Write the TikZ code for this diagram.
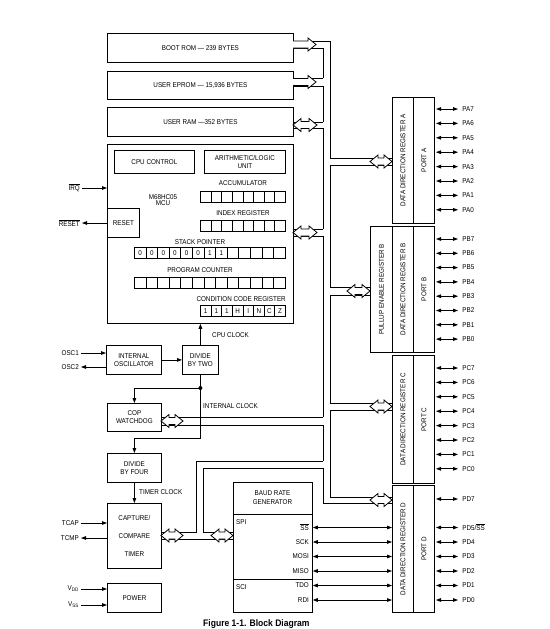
\documentclass[tikz,border=0pt]{standalone}
\usepackage{fontspec}
\setmainfont{Liberation Sans}[FakeStretch=0.9]
\usetikzlibrary{positioning, arrows.meta, calc}

\newcommand{\lbl}{\fontsize{7}{8}\selectfont}
\newcommand{\ovl}[1]{\ensuremath{\overline{\mbox{#1}}}}

\tikzset{
  blk/.style={draw, line width=0.8pt, inner sep=0pt, align=center, font=\lbl},
  cell/.style={draw, line width=0.7pt, inner sep=0pt, minimum height=11pt, anchor=north west, font=\lbl},
  txt/.style={inner sep=0pt, font=\lbl, align=center},
  bus/.style={line width=0.8pt},
  hollow/.style={draw, fill=white, line width=0.8pt, line join=miter},
  sig/.style={-{Triangle[length=5pt, width=3.6pt]}, line width=0.8pt},
  bisig/.style={{Triangle[length=5pt, width=3.6pt]}-{Triangle[length=5pt, width=3.6pt]}, line width=0.8pt},
}

% hollow bus arrow, one head: start x, centre y, tip x
\newcommand{\busR}[3]{%
  \draw[hollow] (#1,#2-3.5) -- (#3-8,#2-3.5) -- (#3-8,#2-6.5) -- (#3,#2) -- (#3-8,#2+6.5) -- (#3-8,#2+3.5) -- (#1,#2+3.5);%
}
% hollow bus arrow, two heads: left tip x, centre y, right tip x
\newcommand{\busLR}[3]{%
  \draw[hollow] (#1,#2) -- (#1+8,#2-6.5) -- (#1+8,#2-3.5) -- (#3-8,#2-3.5) -- (#3-8,#2-6.5) -- (#3,#2) -- (#3-8,#2+6.5) -- (#3-8,#2+3.5) -- (#1+8,#2+3.5) -- (#1+8,#2+6.5) -- cycle;%
}

\begin{document}
\begin{tikzpicture}[x=1pt, y=-1pt]
\useasboundingbox (0,0) rectangle (549,629);

% Memory
\node[blk, minimum width=186pt, minimum height=29pt, anchor=north west] (rom) at (107,33) {BOOT ROM --- 239 BYTES};
\node[blk, minimum width=186pt, minimum height=28pt, anchor=north west] (eprom) at (107,71) {USER EPROM --- 15,936 BYTES};
\node[blk, minimum width=186pt, minimum height=29pt, anchor=north west] (ram) at (107,107) {USER RAM ---352 BYTES};

% CPU
\node[blk, minimum width=186pt, minimum height=179pt, anchor=north west] (cpu) at (107,144) {};
\node[blk, minimum width=80pt, minimum height=23pt, anchor=north west] (ctrl) at (114,150) {CPU CONTROL};
\node[blk, minimum width=81pt, minimum height=23pt, anchor=north west] (alu) at (204,150) {ARITHMETIC/LOGIC\\UNIT};
\node[txt, font=\fontsize{7}{6.5}\selectfont] (mcu) at (163,200) {M68HC05\\MCU};
\node[blk, minimum width=32pt, minimum height=29pt, anchor=north west] (reset) at (107,208) {RESET};

\node[txt] (acclbl) at (243,183) {ACCUMULATOR};
\foreach \i in {0,...,7}
  \node[cell, minimum width=10.625pt] (acc\i) at (200+\i*10.625,191) {};
\node[txt] (ixlbl) at (243,213) {INDEX REGISTER};
\foreach \i in {0,...,7}
  \node[cell, minimum width=10.625pt] (ix\i) at (200+\i*10.625,220) {};
\node[txt] (splbl) at (200,242) {STACK POINTER};
\foreach \v [count=\i from 0] in {0,0,0,0,0,0,1,1,{},{},{},{},{}}
  \node[cell, minimum width=11.6pt] (sp\i) at (134+\i*11.6,247) {\v};
\node[txt] (pclbl) at (200,270) {PROGRAM COUNTER};
\foreach \i in {0,...,12}
  \node[cell, minimum width=11.6pt] (pc\i) at (134+\i*11.6,277) {};
\node[txt, anchor=east] (ccrlbl) at (286,299) {CONDITION CODE REGISTER};
\foreach \v [count=\i from 0] in {1,1,1,H,I,N,C,Z}
  \node[cell, minimum width=10.625pt] (ccr\i) at (200+\i*10.625,305) {\v};

\node[txt, anchor=east] (irq) at (80,188) {\ovl{IRQ}};
\draw[sig] ([xshift=2pt]irq.east) -- (cpu.west |- irq.east);
\node[txt, anchor=east] (rst) at (80,223) {\ovl{RESET}};
\draw[sig] (reset.west |- rst.east) -- ([xshift=2pt]rst.east);

% Clocks
\node[blk, minimum width=55pt, minimum height=29pt, anchor=north west] (osc) at (106,345) {INTERNAL\\OSCILLATOR};
\node[blk, minimum width=36pt, minimum height=29pt, anchor=north west] (div2) at (182,345) {DIVIDE\\BY TWO};
\draw[sig] (osc) -- (div2);
\draw[sig] (div2.north) -- (div2.north |- cpu.south);
\node[txt, anchor=west] (cpuclk) at (212,335) {CPU CLOCK};
\node[txt, anchor=east] (osc1) at (79,353) {OSC1};
\draw[sig] ([xshift=2pt]osc1.east) -- (osc.west |- osc1.east);
\node[txt, anchor=east] (osc2) at (79,367) {OSC2};
\draw[sig] (osc.west |- osc2.east) -- ([xshift=2pt]osc2.east);

\node[blk, minimum width=54pt, minimum height=28pt, anchor=north west] (cop) at (107,403) {COP\\WATCHDOG};
\node[blk, minimum width=54pt, minimum height=29pt, anchor=north west] (div4) at (107,453) {DIVIDE\\BY FOUR};
\coordinate (clkdot) at (div2.south |- 0,388);
\draw[sig] (div2.south) -- (clkdot) -| (cop.north);
\draw[sig] (clkdot) -- (clkdot |- 0,438) -| (div4.north);
\fill (clkdot) circle (2pt);
\node[txt, anchor=west] (intclk) at (203,406) {INTERNAL CLOCK};

% Timer and power
\node[blk, minimum width=54pt, minimum height=65pt, anchor=north west, font=\fontsize{7}{18}\selectfont] (timer) at (107,503) {CAPTURE/\\COMPARE\\TIMER};
\draw[sig] (div4.south) -- (timer.north);
\node[txt, anchor=west] (tmrclk) at (139,492) {TIMER CLOCK};
\node[txt, anchor=east] (tcap) at (79,523) {TCAP};
\draw[sig] ([xshift=2pt]tcap.east) -- (timer.west |- tcap.east);
\node[txt, anchor=east] (tcmp) at (79,538) {TCMP};
\draw[sig] (timer.west |- tcmp.east) -- ([xshift=2pt]tcmp.east);

\node[blk, minimum width=54pt, minimum height=29pt, anchor=north west] (power) at (107,583) {POWER};
\node[txt, anchor=east] (vdd) at (79,589) {V\textsubscript{DD}};
\draw[sig] ([xshift=2pt]vdd.east) -- (power.west |- vdd.east);
\node[txt, anchor=east] (vss) at (79,605) {V\textsubscript{SS}};
\draw[sig] ([xshift=2pt]vss.east) -- (power.west |- vss.east);

% Serial block
\node[blk, minimum width=79pt, minimum height=130pt, anchor=north west] (serial) at (233,482) {};
\node[txt, font=\fontsize{7}{9}\selectfont] (baud) at (272.5,498) {BAUD RATE\\GENERATOR};
\draw (serial.west |- 0,514) -- (serial.east |- 0,514);
\draw (serial.west |- 0,579) -- (serial.east |- 0,579);
\node[txt, anchor=west] (spi) at (236,522) {SPI};
\node[txt, anchor=west] (sci) at (236,587) {SCI};

% Ports
\foreach \p/\t/\h in {A/97/126pt, B/226/126pt, C/355/128pt, D/485/127pt} {
  \node[blk, minimum width=21pt, minimum height=\h, anchor=north west] (ddr\p) at (392,\t) {};
  \node[blk, minimum width=21pt, minimum height=\h, anchor=north west] (port\p) at (413,\t) {};
  \node[txt, rotate=90] (txtddr\p) at (ddr\p) {DATA DIRECTION REGISTER \p};
  \node[txt, rotate=90] (txtport\p) at (port\p) {PORT \p};
}
\node[blk, minimum width=22pt, minimum height=126pt, anchor=north west] (pullB) at (370,226) {};
\node[txt, rotate=90] (txtpullB) at (pullB) {PULLUP ENABLE REGISTER B};

% Port pins
\foreach \n [count=\i from 0] in {7,...,0} {
  \draw[bisig] (436,109+\i*14.4) -- ++(22,0) node[txt, anchor=west, xshift=4pt] (lpa\n) {PA\n};
  \draw[bisig] (436,239+\i*14.3) -- ++(22,0) node[txt, anchor=west, xshift=4pt] (lpb\n) {PB\n};
  \draw[bisig] (436,368+\i*14.4) -- ++(22,0) node[txt, anchor=west, xshift=4pt] (lpc\n) {PC\n};
}
\draw[bisig] (436,499) -- ++(22,0) node[txt, anchor=west, xshift=4pt] (lpd7) {PD7};
\foreach \n/\y/\s/\d in {ss/527.5/{\ovl{SS}}/{PD5/\ovl{SS}}, sck/542/SCK/PD4/SCK, mosi/556.5/MOSI/PD3/MOSI,
                         miso/571/MISO/PD2/MISO, tdo/585.5/TDO/PD1/TDO, rdi/600/RDI/PD0/RDI} {
  \coordinate (y\n) at (0,\y);
  \node[txt, anchor=east] (\n) at (309,\y) {\s};
  \draw[bisig] (serial.east |- y\n) -- (ddrD.west |- y\n);
  \draw[bisig] (436,\y) -- ++(22,0) node[txt, anchor=west, xshift=4pt] (lpd\n) {\d};
}

% --- Data bus ----------------------------------------------------------
\coordinate (outer) at (330,0);
\coordinate (inner) at (323,0);
\foreach \a/\b in {41/158, 165/287, 295/403, 410/497}
  \draw[bus] (outer |- 0,\a) -- (outer |- 0,\b);
\foreach \a/\b in {48/78, 86/122, 128/229, 236/417, 425/461, 468/503}
  \draw[bus] (inner |- 0,\a) -- (inner |- 0,\b);
\draw[bus] (rom.east |- 0,41) -- (outer |- 0,41);
\foreach \n/\y in {rom/48, eprom/78, eprom/86, ram/122, ram/128, cpu/229, cpu/236, cop/417, cop/425}
  \draw[bus] (\n.east |- 0,\y) -- (inner |- 0,\y);
\foreach \n/\y in {ddrA/158, ddrA/165, pullB/287, pullB/295, ddrC/403, ddrC/410, ddrD/497}
  \draw[bus] (outer |- 0,\y) -- (\n.west |- 0,\y);
\draw[bus] (inner |- 0,503) -- (ddrD.west |- 0,503);
% timer / SPI branch
\draw[bus] (inner |- 0,461) -| (196,532) -- (timer.east |- 0,532);
\draw[bus] (inner |- 0,468) -| (203,532) -- (serial.west |- 0,532);
\draw[bus] (timer.east |- 0,539) -- (serial.west |- 0,539);

% hollow heads
\busR{293}{44.5}{316}
\busR{293}{82}{316}
\busLR{293}{125}{317}
\busLR{293}{232.5}{317}
\busLR{370}{161.5}{392}
\busLR{347}{291}{370}
\busLR{370}{406.5}{392}
\busLR{370}{500}{392}
\busLR{161}{421}{183}
\busLR{161}{535.5}{183}
\busLR{211}{535.5}{233}

% Caption
\node[anchor=north west, inner sep=0pt, font=\fontsize{9.5}{11}\selectfont\bfseries] (caption) at (203,619.3) {Figure 1-1. Block Diagram};

\end{tikzpicture}
\end{document}
